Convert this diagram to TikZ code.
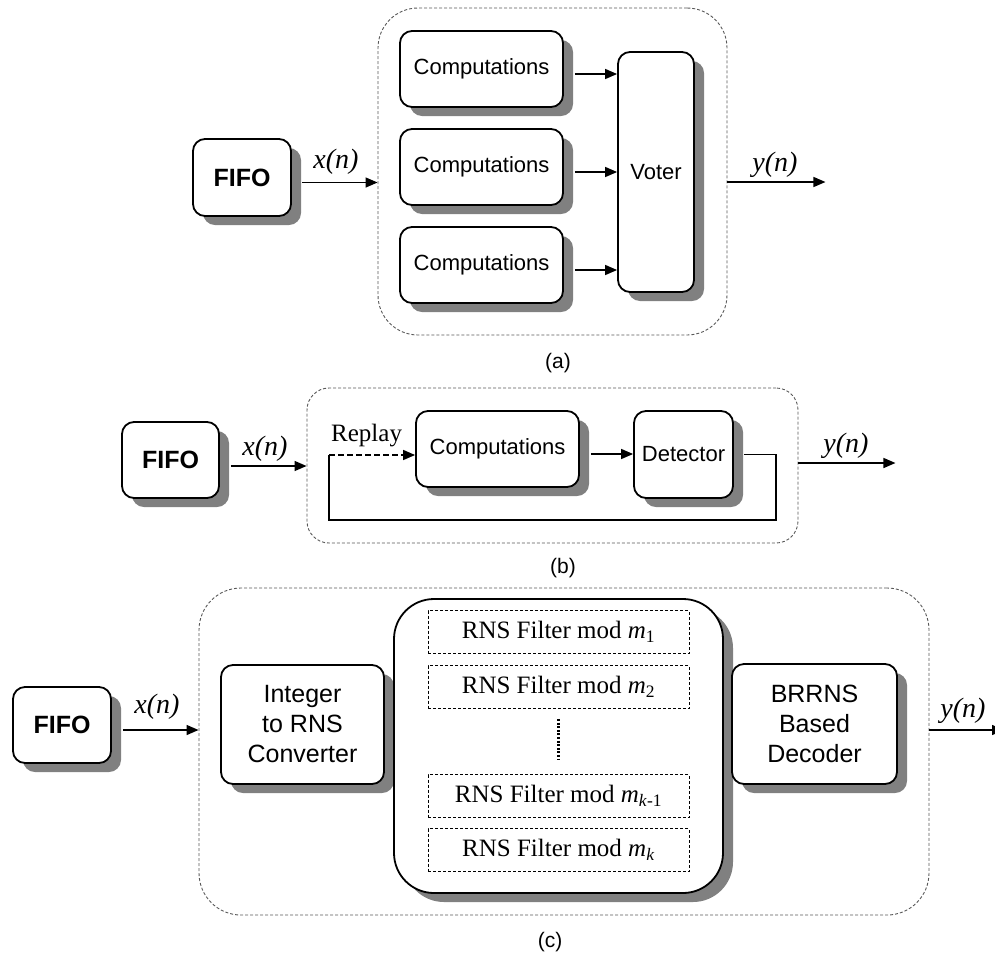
\documentclass[tikz,border=0pt]{standalone}
\usepackage{fontspec}
\setmainfont{Liberation Serif}
\setsansfont{Liberation Sans}
\usetikzlibrary{shadows,arrows.meta,calc}

\begin{document}
\begin{tikzpicture}[x=1pt,y=-1pt,
  block/.style={draw,line width=1.8pt,rounded corners=12pt,fill=white,
    drop shadow={shadow xshift=10pt,shadow yshift=-9pt,fill=black!50,opacity=1},
    inner sep=0pt,align=center,font=\sffamily\fontsize{22}{26}\selectfont},
  bigtext/.style={font=\sffamily\fontsize{25}{30}\selectfont},
  fifobox/.style={block,font=\sffamily\bfseries\fontsize{25}{30}\selectfont,
    minimum width=98,minimum height=77},
  group/.style={draw=black!65,line width=0.9pt,dash pattern=on 3pt off 2pt,inner sep=0pt},
  filterbox/.style={draw,line width=0.9pt,dash pattern=on 3pt off 2pt,inner sep=0pt,
    minimum width=261,minimum height=43,font=\fontsize{25}{29}\selectfont},
  arr/.style={line width=1.4pt,-{Triangle[length=12pt,width=10pt]}},
  wire/.style={line width=1.4pt},
  sig/.style={font=\itshape\fontsize{28}{32}\selectfont,anchor=base,inner sep=0pt},
  caption/.style={font=\sffamily\fontsize{21}{25}\selectfont,anchor=base,inner sep=0pt}]

\useasboundingbox (0,0) rectangle (995,956);

% ---------- (a) triple modular redundancy ----------
\node[group,rounded corners=40pt,minimum width=349,minimum height=327] (contA) at (552.5,171.5) {};
\node[fifobox] (fifoA) at (242,177.5) {FIFO};
\node[block,minimum width=163,minimum height=76] (compA1) at (481.5,69) {Computations};
\node[block,minimum width=163,minimum height=76] (compA2) at (481.5,167) {Computations};
\node[block,minimum width=163,minimum height=76] (compA3) at (481.5,265) {Computations};
\node[block,minimum width=76,minimum height=240] (voter) at (656,172) {Voter};

\coordinate (xa) at ($(fifoA.east)+(10,5)$);
\draw[arr] (xa) -- (xa -| contA.west);
\node[sig] (xlabA) at (336,168) {x(n)};
\foreach \i in {1,2,3}{
  \coordinate (ca\i) at ($(compA\i.east)+(11,5)$);
  \draw[arr] (ca\i) -- (ca\i -| voter.west);
}
\coordinate (ya) at ($(contA.east |- 0,182)$);
\draw[arr] (ya) -- ++(98,0);
\node[sig] (ylabA) at (775,171) {y(n)};
\node[caption] (capA) at (558,368) {(a)};

% ---------- (b) re-execution with detection ----------
\node[group,rounded corners=22pt,minimum width=491,minimum height=155] (contB) at (552.5,465.5) {};
\node[fifobox,minimum width=97,minimum height=76] (fifoB) at (170.5,460) {FIFO};
\node[block,minimum width=163,minimum height=76] (compB) at (497.5,449) {Computations};
\node[block,minimum width=99,minimum height=87] (det) at (683.5,454.5) {Detector};

\coordinate (xb) at ($(fifoB.east)+(11,6)$);
\draw[arr] (xb) -- (xb -| contB.west);
\node[sig] (xlabB) at (265,455) {x(n)};
\coordinate (cb) at ($(compB.east)+(11,5)$);
\draw[arr] (cb) -- (cb -| det.west);
\coordinate (fb) at ($(det.east)+(10,0)$);
\coordinate (rp) at (329,455);
\draw[wire] (fb) -- (776,454.5) -- (776,520) -| (rp);
\draw[arr,dash pattern=on 6pt off 3pt] (rp) -- (rp -| compB.west);
\node[font=\fontsize{25}{30}\selectfont,anchor=base west,inner sep=0pt] (replay) at (331,441) {Replay};
\coordinate (yb) at ($(contB.east |- 0,463)$);
\draw[arr] (yb) -- ++(97,0);
\node[sig] (ylabB) at (846,452) {y(n)};
\node[caption] (capB) at (563,573) {(b)};

% ---------- (c) redundant residue number system ----------
\node[group,rounded corners=42pt,minimum width=730,minimum height=327] (contC) at (564,751.5) {};
\node[fifobox,minimum width=98,minimum height=76] (fifoC) at (62,725) {FIFO};
\node[block,bigtext,minimum width=163,minimum height=119] (intC) at (302.5,724.5) {Integer\\to RNS\\Converter};
\node[block,rounded corners=40pt,minimum width=329,minimum height=294] (rnsC) at (558.5,746) {};
\node[block,bigtext,minimum width=165,minimum height=120] (brC) at (814.5,724) {BRRNS\\Based\\Decoder};

\node[filterbox] (f1) at (558.5,632) {RNS Filter mod \textit{m}\textsubscript{1}};
\node[filterbox] (f2) at (558.5,687) {RNS Filter mod \textit{m}\textsubscript{2}};
\node[filterbox] (f3) at (558.5,796) {RNS Filter mod \textit{m}\textsubscript{\textit{k}-1}};
\node[filterbox] (f4) at (558.5,850) {RNS Filter mod \textit{m}\textsubscript{\textit{k}}};
\draw[line width=3pt,dash pattern=on 2pt off 1.6pt] ($(f2.south)+(0,10)$) -- ($(f3.north)+(0,-14)$);

\coordinate (xc) at ($(fifoC.east)+(11,5)$);
\draw[arr] (xc) -- (xc -| contC.west);
\node[sig] (xlabC) at (157,713) {x(n)};
\coordinate (yc) at ($(contC.east |- 0,730)$);
\draw[arr] (yc) -- (1004,730);
\node[sig] (ylabC) at (963,717) {y(n)};
\node[caption] (capC) at (550,947) {(c)};

\end{tikzpicture}
\end{document}
